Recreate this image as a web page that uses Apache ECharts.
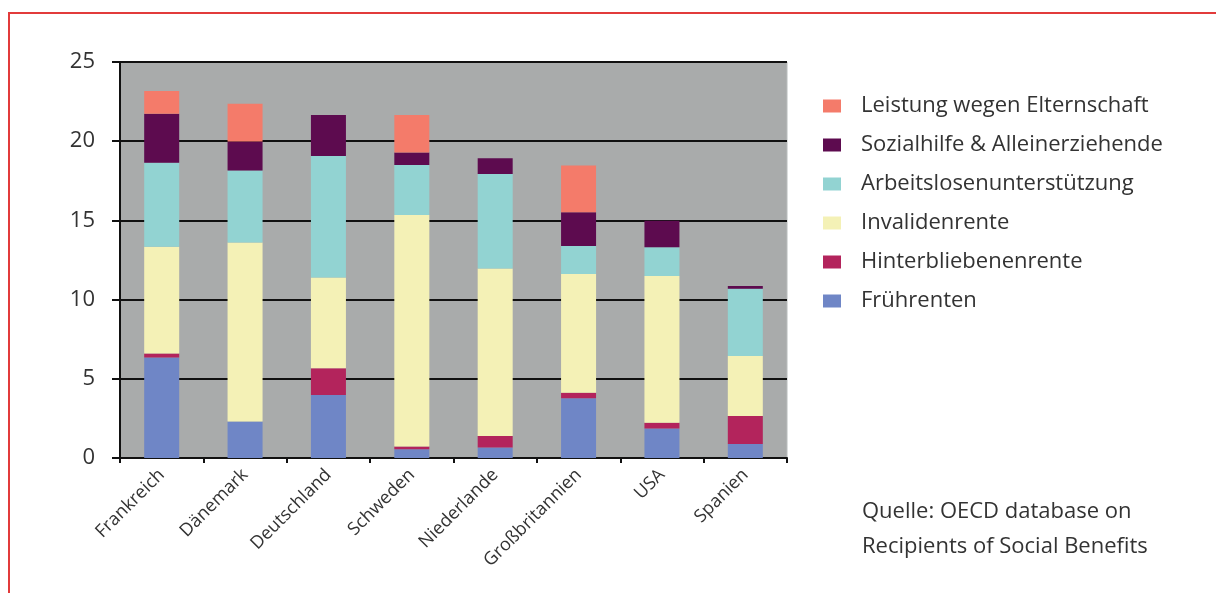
<!DOCTYPE html>
<html>
<head>
<meta charset="utf-8">
<script src="https://cdn.jsdelivr.net/npm/echarts@6/dist/echarts.min.js"></script>
<style>
html,body{margin:0;padding:0;background:#fff;overflow:hidden;}
#frame{position:absolute;left:8px;top:12px;width:1230px;height:600px;border-left:2px solid #e23b3b;border-top:2px solid #e23b3b;box-sizing:border-box;}
#chart{position:absolute;left:0;top:0;width:1216px;height:593px;}
</style>
</head>
<body>
<div id="frame"></div>
<div id="chart"></div>
<script>
const categories = ['Frankreich','Dänemark','Deutschland','Schweden','Niederlande','Großbritannien','USA','Spanien'];
const fruehrenten = [6.35, 2.3, 3.98, 0.55, 0.67, 3.77, 1.87, 0.88];
const hinterbliebenen = [0.25, 0, 1.68, 0.17, 0.72, 0.35, 0.36, 1.77];
const invaliden = [6.73, 11.3, 5.74, 14.62, 10.58, 7.5, 9.26, 3.79];
const arbeitslosen = [5.31, 4.55, 7.67, 3.16, 5.96, 1.76, 1.81, 4.25];
const sozialhilfe = [3.1, 1.83, 2.58, 0.78, 0.99, 2.13, 1.68, 0.17];
const elternschaft = [1.43, 2.38, 0, 2.37, 0, 2.95, 0, 0];
const yTicks = [0, 5, 10, 15, 20, 25];
const sourceLines = ['Quelle: OECD database on', 'Recipients of Social Benefits'];

const seriesDefs = [
  ['Frührenten', fruehrenten, '#6f86c6'],
  ['Hinterbliebenenrente', hinterbliebenen, '#b3245c'],
  ['Invalidenrente', invaliden, '#f4f1b6'],
  ['Arbeitslosenunterstützung', arbeitslosen, '#92d3d2'],
  ['Sozialhilfe & Alleinerziehende', sozialhilfe, '#5d0b4f'],
  ['Leistung wegen Elternschaft', elternschaft, '#f47b6a']
];

const chart = echarts.init(document.getElementById('chart'));
const font = '"Open Sans", "Noto Sans", sans-serif';
chart.setOption({
  animation: false,
  textStyle: {fontFamily: font},
  grid: {left: 120, right: 429, top: 62, bottom: 135, show: true, backgroundColor: '#a9abab', borderColor: '#b8bcbc', borderWidth: 1},
  legend: {
    orient: 'vertical', left: 818, top: 90, itemGap: 17, itemWidth: 18, itemHeight: 13, icon: 'rect',
    data: seriesDefs.map(d => d[0]).reverse(),
    textStyle: {fontSize: 22, lineHeight: 22, color: '#333', fontFamily: font, padding: [0, 0, 0, 15]}
  },
  graphic: sourceLines.map((t, i) => ({
    type: 'text', left: 862, top: 501 + i * 35,
    style: {text: t, fontSize: 22, fill: '#333', fontFamily: font}
  })),
  xAxis: {
    type: 'category', data: categories,
    axisLine: {lineStyle: {color: '#111', width: 2}},
    axisTick: {show: true, length: 5, lineStyle: {color: '#111', width: 2}},
    axisLabel: {rotate: 45, fontSize: 18, color: '#333', margin: 14, fontFamily: font}
  },
  yAxis: {
    type: 'value', min: 0, max: 25, interval: 5,
    axisLine: {show: true, lineStyle: {color: '#111', width: 2}},
    axisTick: {show: true, length: 8, lineStyle: {color: '#111', width: 2}},
    axisLabel: {fontSize: 22, color: '#333', margin: 25, fontFamily: font,
      formatter: v => yTicks.includes(v) ? String(v) : ''},
    splitLine: {show: true, lineStyle: {color: '#111', width: 2}}
  },
  series: seriesDefs.map(d => ({
    name: d[0], type: 'bar', stack: 'total', data: d[1], barWidth: 35,
    itemStyle: {color: d[2]}
  }))
});
</script>
</body>
</html>
